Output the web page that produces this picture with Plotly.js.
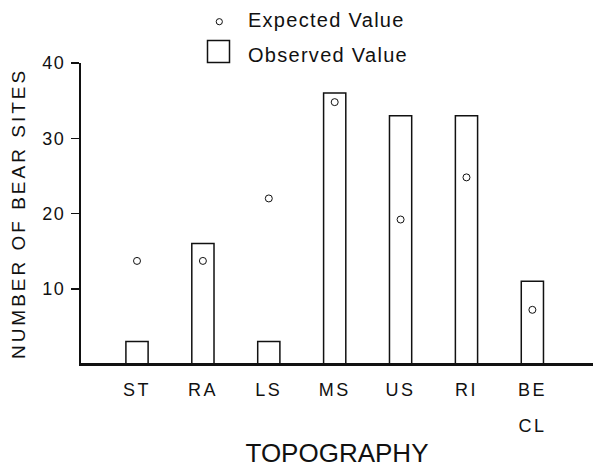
<!DOCTYPE html>
<html>
<head>
<meta charset="utf-8">
<script src="https://cdn.plot.ly/plotly-3.0.1.min.js"></script>
<style>
  html, body { margin: 0; padding: 0; background: #fff; overflow: hidden; }
  #chart { width: 593px; height: 468px; }
  .xtick text { letter-spacing: 2.5px; }
  .ytick text { letter-spacing: 1.5px; }
  .g-ytitle text { letter-spacing: 3px; }
</style>
</head>
<body>
<div id="chart"></div>
<script>
// ---- data ----
const categories = ['ST', 'RA', 'LS', 'MS', 'US', 'RI', 'BE'];
const tickLabels = ['ST', 'RA', 'LS', 'MS', 'US', 'RI', 'BE'];
const tickSecondLine = ['', '', '', '', '', '', 'CL'];
const observed = [3, 16, 3, 36, 33, 33, 11];
const expected = [13.7, 13.7, 22, 34.8, 19.2, 24.8, 7.2];
const yTickVals = [10, 20, 30, 40];
const yTickText = ['10', '20', '30', '40'];

const FONT = '"Liberation Sans", Arial, Helvetica, sans-serif';
const INK = '#111';

// geometry of the plotting area (pixels)
const W = 593, H = 468;
const M = { l: 81, r: 0, t: 63, b: 104 };
const PW = W - M.l - M.r, PH = H - M.t - M.b;
const px = X => (X - M.l) / PW;
const py = Y => (H - M.b - Y) / PH;

const traces = [
  {
    type: 'bar',
    name: 'Observed Value',
    x: categories,
    y: observed,
    width: 0.337,
    marker: { color: '#fff', line: { color: INK, width: 1.5 } },
    showlegend: false,
    hoverinfo: 'x+y'
  },
  {
    type: 'scatter',
    mode: 'markers',
    name: 'Expected Value',
    x: categories,
    y: expected,
    marker: { symbol: 'circle-open', size: 7, color: INK, line: { width: 1, color: INK } },
    showlegend: false,
    hoverinfo: 'x+y'
  }
];

const annotations = [
  { xref: 'paper', yref: 'paper', x: px(255), y: py(19.5), xanchor: 'left', yanchor: 'middle',
    text: 'Expected Value', showarrow: false,
    font: { family: FONT, size: 20, color: INK } },
  { xref: 'paper', yref: 'paper', x: px(255), y: py(55.5), xanchor: 'left', yanchor: 'middle',
    text: 'Observed Value', showarrow: false,
    font: { family: FONT, size: 20, color: INK } }
];
tickSecondLine.forEach((t, i) => {
  if (t) annotations.push({
    xref: 'x', yref: 'paper', x: categories[i], y: py(425.5), xanchor: 'center', yanchor: 'middle',
    text: t, showarrow: false, font: { family: FONT, size: 18, color: INK }
  });
});

const shapes = [
  { type: 'circle', xref: 'paper', yref: 'paper',
    x0: px(216.2), x1: px(222.4), y0: py(24.8), y1: py(18.6),
    line: { color: INK, width: 1 }, fillcolor: 'rgba(0,0,0,0)' },
  { type: 'rect', xref: 'paper', yref: 'paper',
    x0: px(207.5), x1: px(229.5), y0: py(62.5), y1: py(40.5),
    line: { color: INK, width: 1.5 }, fillcolor: 'rgba(0,0,0,0)' },
  // baseline continued to the right edge of the figure
  { type: 'line', xref: 'paper', yref: 'paper', x0: 0, x1: 1, y0: 0, y1: 0,
    line: { color: INK, width: 2 } }
];

const layout = {
  width: W, height: H,
  margin: M,
  paper_bgcolor: '#fff', plot_bgcolor: '#fff',
  font: { family: FONT, color: INK },
  showlegend: false,
  xaxis: {
    type: 'category',
    range: [-0.85, 6.92],
    tickvals: categories,
    ticktext: tickLabels,
    ticks: '',
    showline: true, linecolor: INK, linewidth: 2,
    showgrid: false, zeroline: false,
    tickfont: { family: FONT, size: 18, color: INK },
    ticklabelstandoff: 8,
    title: { text: 'TOPOGRAPHY', font: { family: FONT, size: 26, color: INK }, standoff: 49 },
    fixedrange: true
  },
  yaxis: {
    range: [0, 40],
    tickvals: yTickVals,
    ticktext: yTickText,
    ticks: 'outside', ticklen: 8, tickwidth: 1.5, tickcolor: INK,
    showline: true, linecolor: INK, linewidth: 2,
    showgrid: false, zeroline: false,
    tickfont: { family: FONT, size: 18, color: INK },
    ticklabelstandoff: 2,
    title: { text: 'NUMBER OF BEAR SITES', font: { family: FONT, size: 19, color: INK }, standoff: 12 },
    fixedrange: true
  },
  annotations: annotations,
  shapes: shapes
};

Plotly.newPlot('chart', traces, layout, { displayModeBar: false, staticPlot: true }).then(() => {
  document.querySelectorAll('.annotation-text').forEach(el => {
    const t = el.textContent;
    el.style.letterSpacing = (t === 'CL') ? '2.5px' : '1.3px';
  });
});
</script>
</body>
</html>
